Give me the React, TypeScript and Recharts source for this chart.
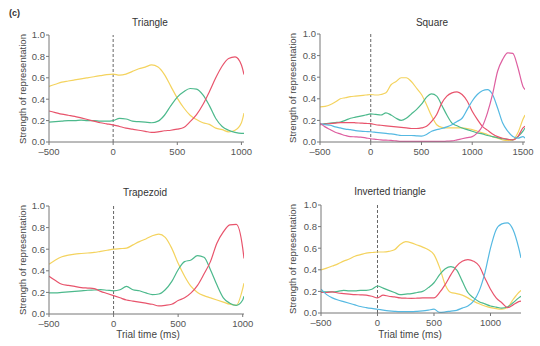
import React from 'react';
import { LineChart, Line, XAxis, YAxis, ReferenceLine } from 'recharts';

const YELLOW = '#f4d35e';
const GREEN = '#4cb98c';
const RED = '#e8546c';
const CYAN = '#55b9e2';
const PINK = '#de5fa0';

const FONT = '"Liberation Sans", Arial, sans-serif';

const Y_TICKS = [0, 0.2, 0.4, 0.6, 0.8, 1.0];

// Triangle
const TRI_TIME = [-500, -450, -400, -350, -300, -250, -200, -150, -100, -50, 0, 50, 100, 150, 200, 250, 300, 350, 400, 450, 500, 550, 600, 650, 700, 750, 800, 850, 900, 950, 1000, 1020];
const TRI_YELLOW = [0.52, 0.54, 0.56, 0.57, 0.58, 0.59, 0.6, 0.61, 0.62, 0.63, 0.635, 0.625, 0.635, 0.66, 0.685, 0.7, 0.72, 0.7, 0.63, 0.52, 0.41, 0.32, 0.25, 0.21, 0.18, 0.165, 0.13, 0.115, 0.095, 0.11, 0.18, 0.27];
const TRI_GREEN = [0.185, 0.19, 0.195, 0.2, 0.2, 0.205, 0.2, 0.2, 0.195, 0.195, 0.2, 0.22, 0.215, 0.195, 0.19, 0.185, 0.18, 0.195, 0.25, 0.34, 0.42, 0.47, 0.5, 0.495, 0.44, 0.34, 0.22, 0.145, 0.11, 0.09, 0.08, 0.08];
const TRI_RED = [0.29, 0.275, 0.26, 0.25, 0.24, 0.225, 0.21, 0.195, 0.18, 0.17, 0.16, 0.145, 0.13, 0.12, 0.11, 0.1, 0.09, 0.095, 0.105, 0.11, 0.12, 0.135, 0.19, 0.255, 0.35, 0.47, 0.6, 0.71, 0.78, 0.795, 0.72, 0.63];

// Square
const SQ_TIME = [-500, -450, -400, -350, -300, -250, -200, -150, -100, -50, 0, 50, 100, 150, 200, 250, 300, 350, 400, 450, 500, 550, 600, 650, 700, 750, 800, 850, 900, 950, 1000, 1050, 1100, 1150, 1200, 1250, 1300, 1350, 1400, 1450, 1500, 1520];
const SQ_YELLOW = [0.325, 0.33, 0.345, 0.37, 0.4, 0.41, 0.42, 0.425, 0.43, 0.435, 0.44, 0.435, 0.44, 0.455, 0.53, 0.56, 0.595, 0.595, 0.56, 0.5, 0.44, 0.345, 0.24, 0.16, 0.135, 0.13, 0.13, 0.13, 0.13, 0.125, 0.115, 0.1, 0.085, 0.07, 0.05, 0.035, 0.02, 0.015, 0.02, 0.085, 0.21, 0.25];
const SQ_GREEN = [0.16, 0.17, 0.175, 0.18, 0.185, 0.2, 0.22, 0.23, 0.24, 0.25, 0.26, 0.255, 0.25, 0.27, 0.25, 0.22, 0.2, 0.22, 0.26, 0.3, 0.35, 0.415, 0.445, 0.425, 0.34, 0.25, 0.175, 0.15, 0.13, 0.115, 0.1, 0.085, 0.075, 0.06, 0.05, 0.04, 0.03, 0.025, 0.02, 0.05, 0.1, 0.13];
const SQ_RED = [0.16, 0.165, 0.17, 0.175, 0.18, 0.18, 0.18, 0.178, 0.175, 0.172, 0.17, 0.16, 0.155, 0.15, 0.145, 0.14, 0.135, 0.13, 0.125, 0.125, 0.13, 0.145, 0.19, 0.255, 0.36, 0.425, 0.455, 0.465, 0.44, 0.38, 0.285, 0.21, 0.145, 0.11, 0.075, 0.05, 0.035, 0.025, 0.02, 0.05, 0.13, 0.145];
const SQ_CYAN = [0.17, 0.16, 0.155, 0.14, 0.13, 0.12, 0.115, 0.105, 0.1, 0.097, 0.095, 0.09, 0.085, 0.08, 0.075, 0.068, 0.06, 0.06, 0.06, 0.057, 0.055, 0.07, 0.1, 0.115, 0.125, 0.14, 0.16, 0.19, 0.22, 0.3, 0.38, 0.44, 0.475, 0.485, 0.44, 0.315, 0.175, 0.1, 0.05, 0.035, 0.05, 0.035];
const SQ_PINK = [0.175, 0.14, 0.115, 0.09, 0.075, 0.06, 0.05, 0.048, 0.045, 0.038, 0.03, 0.025, 0.02, 0.017, 0.015, 0.01, 0.005, 0.005, 0.005, 0.005, 0.005, 0.005, 0.005, 0.005, 0.005, 0.008, 0.01, 0.02, 0.03, 0.04, 0.05, 0.085, 0.145, 0.27, 0.44, 0.655, 0.765, 0.825, 0.82, 0.69, 0.515, 0.485];

// Trapezoid
const TRAP_TIME = [-500, -450, -400, -350, -300, -250, -200, -150, -100, -50, 0, 50, 100, 150, 200, 250, 300, 350, 400, 450, 500, 550, 600, 650, 700, 750, 800, 850, 900, 950, 1000, 1010];
const TRAP_YELLOW = [0.46, 0.5, 0.53, 0.545, 0.555, 0.56, 0.565, 0.57, 0.58, 0.59, 0.6, 0.605, 0.61, 0.64, 0.67, 0.695, 0.725, 0.74, 0.71, 0.61, 0.47, 0.35, 0.255, 0.2, 0.17, 0.15, 0.13, 0.11, 0.09, 0.08, 0.235, 0.285];
const TRAP_GREEN = [0.195, 0.195, 0.2, 0.205, 0.21, 0.215, 0.22, 0.222, 0.225, 0.22, 0.215, 0.225, 0.255, 0.225, 0.215, 0.195, 0.18, 0.185, 0.225, 0.3, 0.41, 0.485, 0.5, 0.54, 0.525, 0.41, 0.27, 0.15, 0.1, 0.08, 0.13, 0.165];
const TRAP_RED = [0.35, 0.31, 0.275, 0.265, 0.255, 0.245, 0.24, 0.235, 0.21, 0.19, 0.17, 0.15, 0.13, 0.12, 0.11, 0.1, 0.09, 0.075, 0.08, 0.09, 0.125, 0.15, 0.195, 0.265, 0.37, 0.485, 0.655, 0.76, 0.825, 0.83, 0.61, 0.515];

// Inverted triangle
const INV_TIME = [-500, -450, -400, -350, -300, -250, -200, -150, -100, -50, 0, 50, 100, 150, 200, 250, 300, 350, 400, 450, 500, 550, 600, 650, 700, 750, 800, 850, 900, 950, 1000, 1050, 1100, 1150, 1200, 1250, 1270];
const INV_YELLOW = [0.4, 0.415, 0.435, 0.455, 0.48, 0.5, 0.525, 0.54, 0.555, 0.56, 0.565, 0.565, 0.57, 0.585, 0.635, 0.66, 0.65, 0.63, 0.61, 0.585, 0.54, 0.42, 0.26, 0.19, 0.18, 0.165, 0.14, 0.11, 0.085, 0.065, 0.05, 0.04, 0.035, 0.05, 0.125, 0.19, 0.21];
const INV_GREEN = [0.195, 0.195, 0.195, 0.2, 0.21, 0.205, 0.205, 0.21, 0.21, 0.22, 0.25, 0.23, 0.21, 0.19, 0.17, 0.175, 0.18, 0.19, 0.2, 0.235, 0.28, 0.355, 0.41, 0.43, 0.4, 0.295, 0.19, 0.14, 0.105, 0.085, 0.065, 0.055, 0.045, 0.055, 0.095, 0.14, 0.155];
const INV_RED = [0.19, 0.19, 0.195, 0.185, 0.18, 0.175, 0.17, 0.168, 0.165, 0.155, 0.14, 0.165, 0.155, 0.15, 0.14, 0.137, 0.135, 0.137, 0.14, 0.14, 0.14, 0.19, 0.265, 0.355, 0.435, 0.48, 0.495, 0.48, 0.435, 0.325, 0.22, 0.14, 0.095, 0.05, 0.075, 0.105, 0.11];
const INV_CYAN = [0.22, 0.17, 0.14, 0.12, 0.105, 0.09, 0.075, 0.06, 0.05, 0.042, 0.035, 0.027, 0.02, 0.015, 0.012, 0.012, 0.012, 0.015, 0.02, 0.027, 0.035, 0.005, 0.01, 0.018, 0.025, 0.045, 0.065, 0.11, 0.205, 0.37, 0.6, 0.77, 0.825, 0.835, 0.77, 0.6, 0.51];

function rows(time: number[], series: Record<string, number[]>) {
  return time.map((t, i) => {
    const r: any = { t };
    Object.keys(series).forEach(k => { r[k] = series[k][i]; });
    return r;
  });
}

const fmtX = (v: number) => (v < 0 ? `\u2013${-v}` : `${v}`);

interface PanelProps {
  left: number;
  top: number;
  height: number;
  plotLeft: number;
  plotRight: number;
  plotTop: number;
  plotBottom: number;
  xEnd: number;
  xTicks: number[];
  data: any[];
  lines: { key: string; color: string }[];
  title: string;
  titleX: number;
  titleY: number;
  xLabel?: { x: number; y: number };
}

const Panel = (p: PanelProps) => {
  const W = 270;
  const yAxisW = 30;
  const xAxisH = 20;
  return (
    <div style={{ position: 'absolute', left: p.left, top: p.top, width: W, height: p.height }}>
      <LineChart
        width={W}
        height={p.height}
        data={p.data}
        margin={{ top: p.plotTop, right: W - p.plotRight, left: p.plotLeft - yAxisW, bottom: p.height - p.plotBottom - xAxisH }}
      >
        <XAxis
          dataKey="t"
          type="number"
          domain={[-500, p.xEnd]}
          ticks={p.xTicks}
          tickFormatter={fmtX}
          height={xAxisH}
          tickSize={3}
          tickMargin={3}
          stroke="#777"
          tick={{ fontSize: 9.5, fill: '#555', fontFamily: FONT }}
          allowDataOverflow
        />
        <YAxis
          type="number"
          domain={[0, 1]}
          ticks={Y_TICKS}
          tickFormatter={(v: number) => v.toFixed(1)}
          width={yAxisW}
          tickSize={3}
          tickMargin={1}
          stroke="#777"
          tick={{ fontSize: 9.5, fill: '#555', fontFamily: FONT }}
        />
        <ReferenceLine x={0} stroke="#666" strokeDasharray="3 2" strokeWidth={1} />
        {p.lines.map(l => (
          <Line key={l.key} dataKey={l.key} stroke={l.color} strokeWidth={1.2} dot={false} type="monotone" isAnimationActive={false} />
        ))}
      </LineChart>
      <div style={{ position: 'absolute', left: p.titleX - 60, top: p.titleY - 7, width: 120, textAlign: 'center', fontFamily: FONT, fontSize: 10, color: '#333' }}>
        {p.title}
      </div>
      <div
        style={{
          position: 'absolute',
          left: 23 - 70,
          top: (p.plotTop + p.plotBottom) / 2 - 6,
          width: 140,
          height: 12,
          lineHeight: '12px',
          textAlign: 'center',
          transform: 'rotate(-90deg)',
          fontFamily: FONT,
          fontSize: 9.5,
          color: '#444',
          whiteSpace: 'nowrap',
        }}
      >
        Strength of representation
      </div>
      {p.xLabel && (
        <div style={{ position: 'absolute', left: p.xLabel.x - 60, top: p.xLabel.y - 7, width: 120, textAlign: 'center', fontFamily: FONT, fontSize: 10, color: '#444' }}>
          Trial time (ms)
        </div>
      )}
    </div>
  );
};

export default function App() {
  const triData = rows(TRI_TIME, { yellow: TRI_YELLOW, green: TRI_GREEN, red: TRI_RED });
  const sqData = rows(SQ_TIME, { yellow: SQ_YELLOW, green: SQ_GREEN, red: SQ_RED, cyan: SQ_CYAN, pink: SQ_PINK });
  const trapData = rows(TRAP_TIME, { yellow: TRAP_YELLOW, green: TRAP_GREEN, red: TRAP_RED });
  const invData = rows(INV_TIME, { yellow: INV_YELLOW, green: INV_GREEN, red: INV_RED, cyan: INV_CYAN });

  return (
    <div style={{ position: 'absolute', left: 0, top: 0, width: 540, height: 346, background: '#fff', overflow: 'hidden' }}>
      <div style={{ position: 'absolute', left: 9, top: 8, fontFamily: FONT, fontSize: 9, fontWeight: 'bold', color: '#333' }}>(c)</div>
      <Panel
        left={0} top={0} height={170}
        plotLeft={49} plotRight={244} plotTop={35} plotBottom={142}
        xEnd={1020} xTicks={[-500, 0, 500, 1000]}
        data={triData}
        lines={[{ key: 'yellow', color: YELLOW }, { key: 'green', color: GREEN }, { key: 'red', color: RED }]}
        title="Triangle" titleX={150} titleY={24}
      />
      <Panel
        left={270} top={0} height={170}
        plotLeft={50} plotRight={255} plotTop={34} plotBottom={142}
        xEnd={1520} xTicks={[-500, 0, 500, 1000, 1500]}
        data={sqData}
        lines={[{ key: 'yellow', color: YELLOW }, { key: 'green', color: GREEN }, { key: 'red', color: RED }, { key: 'cyan', color: CYAN }, { key: 'pink', color: PINK }]}
        title="Square" titleX={162} titleY={24}
      />
      <Panel
        left={0} top={170} height={176}
        plotLeft={49} plotRight={244} plotTop={36} plotBottom={144}
        xEnd={1010} xTicks={[-500, 0, 500, 1000]}
        data={trapData}
        lines={[{ key: 'yellow', color: YELLOW }, { key: 'green', color: GREEN }, { key: 'red', color: RED }]}
        title="Trapezoid" titleX={145} titleY={24}
        xLabel={{ x: 148, y: 166 }}
      />
      <Panel
        left={270} top={170} height={176}
        plotLeft={51} plotRight={251} plotTop={35} plotBottom={143}
        xEnd={1270} xTicks={[-500, 0, 500, 1000]}
        data={invData}
        lines={[{ key: 'yellow', color: YELLOW }, { key: 'green', color: GREEN }, { key: 'red', color: RED }, { key: 'cyan', color: CYAN }]}
        title="Inverted triangle" titleX={120} titleY={23}
        xLabel={{ x: 140, y: 166 }}
      />
    </div>
  );
}
